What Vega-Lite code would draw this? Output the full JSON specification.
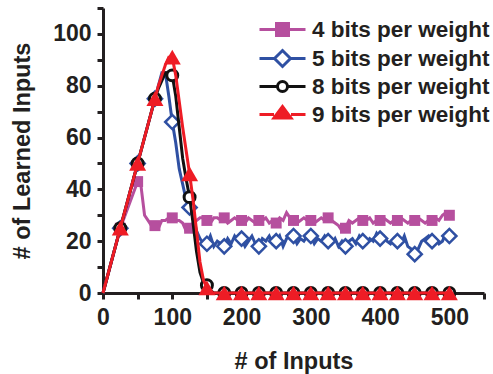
{
  "$schema": "https://vega.github.io/schema/vega-lite/v6.json",
  "width": 381,
  "height": 285,
  "autosize": "none",
  "padding": {"left": 103, "top": 8, "right": 9, "bottom": 81},
  "background": "white",
  "config": {
    "view": {"stroke": null},
    "font": "Liberation Sans",
    "axis": {
      "grid": false,
      "domainColor": "#231F20",
      "domainWidth": 3,
      "tickColor": "#231F20",
      "tickWidth": 3,
      "tickSize": 6,
      "labelFont": "Liberation Sans",
      "labelFontWeight": "bold",
      "labelFontSize": 23,
      "labelColor": "#231F20",
      "titleFont": "Liberation Sans",
      "titleFontWeight": "bold",
      "titleFontSize": 23.5,
      "titleColor": "#231F20",
      "labelOverlap": false
    }
  },
  "data": {
    "values": [
      {"x": 0, "4 bits per weight": 0, "5 bits per weight": 0, "8 bits per weight": 0, "9 bits per weight": 0},
      {"x": 25, "4 bits per weight": 25, "5 bits per weight": 25, "8 bits per weight": 25, "9 bits per weight": 25},
      {"x": 50, "4 bits per weight": 43, "5 bits per weight": 50, "8 bits per weight": 50, "9 bits per weight": 50},
      {"x": 55, "4 bits per weight": 41, "5 bits per weight": null, "8 bits per weight": null, "9 bits per weight": null},
      {"x": 60, "4 bits per weight": 30, "5 bits per weight": null, "8 bits per weight": null, "9 bits per weight": null},
      {"x": 65, "4 bits per weight": 28, "5 bits per weight": null, "8 bits per weight": null, "9 bits per weight": null},
      {"x": 70, "4 bits per weight": 26, "5 bits per weight": null, "8 bits per weight": null, "9 bits per weight": null},
      {"x": 75, "4 bits per weight": 26, "5 bits per weight": 75, "8 bits per weight": 75, "9 bits per weight": 75},
      {"x": 80, "4 bits per weight": 25, "5 bits per weight": 80, "8 bits per weight": 79, "9 bits per weight": 80},
      {"x": 85, "4 bits per weight": 28, "5 bits per weight": 85, "8 bits per weight": 82, "9 bits per weight": 84},
      {"x": 90, "4 bits per weight": 28, "5 bits per weight": 85, "8 bits per weight": 85, "9 bits per weight": 88},
      {"x": 95, "4 bits per weight": 29, "5 bits per weight": 76, "8 bits per weight": 85, "9 bits per weight": 91},
      {"x": 100, "4 bits per weight": 29, "5 bits per weight": 66, "8 bits per weight": 84, "9 bits per weight": 91},
      {"x": 105, "4 bits per weight": 28, "5 bits per weight": 58, "8 bits per weight": 76, "9 bits per weight": 84},
      {"x": 110, "4 bits per weight": 28, "5 bits per weight": 48, "8 bits per weight": 64, "9 bits per weight": 74},
      {"x": 115, "4 bits per weight": 27, "5 bits per weight": 42, "8 bits per weight": 52, "9 bits per weight": 64},
      {"x": 120, "4 bits per weight": 24, "5 bits per weight": 36, "8 bits per weight": 44, "9 bits per weight": 55},
      {"x": 125, "4 bits per weight": 25, "5 bits per weight": 33, "8 bits per weight": 37, "9 bits per weight": 46},
      {"x": 130, "4 bits per weight": 27, "5 bits per weight": 30, "8 bits per weight": 27, "9 bits per weight": 36},
      {"x": 135, "4 bits per weight": 28, "5 bits per weight": 24, "8 bits per weight": 16, "9 bits per weight": 24},
      {"x": 140, "4 bits per weight": 29, "5 bits per weight": 21, "8 bits per weight": 8, "9 bits per weight": 12},
      {"x": 145, "4 bits per weight": 29, "5 bits per weight": 19, "8 bits per weight": 4, "9 bits per weight": 5},
      {"x": 150, "4 bits per weight": 28, "5 bits per weight": 19, "8 bits per weight": 3, "9 bits per weight": 2},
      {"x": 155, "4 bits per weight": 27, "5 bits per weight": 22, "8 bits per weight": 1, "9 bits per weight": 0},
      {"x": 160, "4 bits per weight": 29, "5 bits per weight": 18, "8 bits per weight": 0, "9 bits per weight": 0},
      {"x": 165, "4 bits per weight": 29, "5 bits per weight": 20, "8 bits per weight": 0, "9 bits per weight": 0},
      {"x": 170, "4 bits per weight": 28, "5 bits per weight": 19, "8 bits per weight": 0, "9 bits per weight": 0},
      {"x": 175, "4 bits per weight": 29, "5 bits per weight": 18, "8 bits per weight": 0, "9 bits per weight": 0},
      {"x": 180, "4 bits per weight": 27, "5 bits per weight": 21, "8 bits per weight": 0, "9 bits per weight": 0},
      {"x": 185, "4 bits per weight": 28, "5 bits per weight": 19, "8 bits per weight": 0, "9 bits per weight": 0},
      {"x": 190, "4 bits per weight": 29, "5 bits per weight": 22, "8 bits per weight": 0, "9 bits per weight": 0},
      {"x": 195, "4 bits per weight": 28, "5 bits per weight": 20, "8 bits per weight": 0, "9 bits per weight": 0},
      {"x": 200, "4 bits per weight": 28, "5 bits per weight": 21, "8 bits per weight": 0, "9 bits per weight": 0},
      {"x": 205, "4 bits per weight": 27, "5 bits per weight": 18, "8 bits per weight": 0, "9 bits per weight": 0},
      {"x": 210, "4 bits per weight": 29, "5 bits per weight": 20, "8 bits per weight": 0, "9 bits per weight": 0},
      {"x": 215, "4 bits per weight": 28, "5 bits per weight": 22, "8 bits per weight": 0, "9 bits per weight": 0},
      {"x": 220, "4 bits per weight": 27, "5 bits per weight": 19, "8 bits per weight": 0, "9 bits per weight": 0},
      {"x": 225, "4 bits per weight": 28, "5 bits per weight": 18, "8 bits per weight": 0, "9 bits per weight": 0},
      {"x": 230, "4 bits per weight": 28, "5 bits per weight": 21, "8 bits per weight": 0, "9 bits per weight": 0},
      {"x": 235, "4 bits per weight": 29, "5 bits per weight": 20, "8 bits per weight": 0, "9 bits per weight": 0},
      {"x": 240, "4 bits per weight": 27, "5 bits per weight": 22, "8 bits per weight": 0, "9 bits per weight": 0},
      {"x": 245, "4 bits per weight": 28, "5 bits per weight": 19, "8 bits per weight": 0, "9 bits per weight": 0},
      {"x": 250, "4 bits per weight": 27, "5 bits per weight": 20, "8 bits per weight": 0, "9 bits per weight": 0},
      {"x": 255, "4 bits per weight": 29, "5 bits per weight": 22, "8 bits per weight": 0, "9 bits per weight": 0},
      {"x": 260, "4 bits per weight": 28, "5 bits per weight": 18, "8 bits per weight": 0, "9 bits per weight": 0},
      {"x": 265, "4 bits per weight": 31, "5 bits per weight": 21, "8 bits per weight": 0, "9 bits per weight": 0},
      {"x": 270, "4 bits per weight": 29, "5 bits per weight": 23, "8 bits per weight": 0, "9 bits per weight": 0},
      {"x": 275, "4 bits per weight": 28, "5 bits per weight": 22, "8 bits per weight": 0, "9 bits per weight": 0},
      {"x": 280, "4 bits per weight": 27, "5 bits per weight": 19, "8 bits per weight": 0, "9 bits per weight": 0},
      {"x": 285, "4 bits per weight": 28, "5 bits per weight": 21, "8 bits per weight": 0, "9 bits per weight": 0},
      {"x": 290, "4 bits per weight": 29, "5 bits per weight": 20, "8 bits per weight": 0, "9 bits per weight": 0},
      {"x": 295, "4 bits per weight": 28, "5 bits per weight": 22, "8 bits per weight": 0, "9 bits per weight": 0},
      {"x": 300, "4 bits per weight": 28, "5 bits per weight": 22, "8 bits per weight": 0, "9 bits per weight": 0},
      {"x": 305, "4 bits per weight": 27, "5 bits per weight": 19, "8 bits per weight": 0, "9 bits per weight": 0},
      {"x": 310, "4 bits per weight": 28, "5 bits per weight": 21, "8 bits per weight": 0, "9 bits per weight": 0},
      {"x": 315, "4 bits per weight": 29, "5 bits per weight": 20, "8 bits per weight": 0, "9 bits per weight": 0},
      {"x": 320, "4 bits per weight": 28, "5 bits per weight": 22, "8 bits per weight": 0, "9 bits per weight": 0},
      {"x": 325, "4 bits per weight": 29, "5 bits per weight": 20, "8 bits per weight": 0, "9 bits per weight": 0},
      {"x": 330, "4 bits per weight": 28, "5 bits per weight": 19, "8 bits per weight": 0, "9 bits per weight": 0},
      {"x": 335, "4 bits per weight": 27, "5 bits per weight": 21, "8 bits per weight": 0, "9 bits per weight": 0},
      {"x": 340, "4 bits per weight": 26, "5 bits per weight": 18, "8 bits per weight": 0, "9 bits per weight": 0},
      {"x": 345, "4 bits per weight": 24, "5 bits per weight": 20, "8 bits per weight": 0, "9 bits per weight": 0},
      {"x": 350, "4 bits per weight": 25, "5 bits per weight": 18, "8 bits per weight": 0, "9 bits per weight": 0},
      {"x": 355, "4 bits per weight": 28, "5 bits per weight": 20, "8 bits per weight": 0, "9 bits per weight": 0},
      {"x": 360, "4 bits per weight": 27, "5 bits per weight": 21, "8 bits per weight": 0, "9 bits per weight": 0},
      {"x": 365, "4 bits per weight": 28, "5 bits per weight": 19, "8 bits per weight": 0, "9 bits per weight": 0},
      {"x": 370, "4 bits per weight": 29, "5 bits per weight": 22, "8 bits per weight": 0, "9 bits per weight": 0},
      {"x": 375, "4 bits per weight": 28, "5 bits per weight": 20, "8 bits per weight": 0, "9 bits per weight": 0},
      {"x": 380, "4 bits per weight": 28, "5 bits per weight": 19, "8 bits per weight": 0, "9 bits per weight": 0},
      {"x": 385, "4 bits per weight": 29, "5 bits per weight": 21, "8 bits per weight": 0, "9 bits per weight": 0},
      {"x": 390, "4 bits per weight": 27, "5 bits per weight": 20, "8 bits per weight": 0, "9 bits per weight": 0},
      {"x": 395, "4 bits per weight": 28, "5 bits per weight": 23, "8 bits per weight": 0, "9 bits per weight": 0},
      {"x": 400, "4 bits per weight": 28, "5 bits per weight": 21, "8 bits per weight": 0, "9 bits per weight": 0},
      {"x": 405, "4 bits per weight": 29, "5 bits per weight": 22, "8 bits per weight": 0, "9 bits per weight": 0},
      {"x": 410, "4 bits per weight": 28, "5 bits per weight": 20, "8 bits per weight": 0, "9 bits per weight": 0},
      {"x": 415, "4 bits per weight": 27, "5 bits per weight": 19, "8 bits per weight": 0, "9 bits per weight": 0},
      {"x": 420, "4 bits per weight": 28, "5 bits per weight": 21, "8 bits per weight": 0, "9 bits per weight": 0},
      {"x": 425, "4 bits per weight": 28, "5 bits per weight": 20, "8 bits per weight": 0, "9 bits per weight": 0},
      {"x": 430, "4 bits per weight": 29, "5 bits per weight": 19, "8 bits per weight": 0, "9 bits per weight": 0},
      {"x": 435, "4 bits per weight": 28, "5 bits per weight": 22, "8 bits per weight": 0, "9 bits per weight": 0},
      {"x": 440, "4 bits per weight": 27, "5 bits per weight": 18, "8 bits per weight": 0, "9 bits per weight": 0},
      {"x": 445, "4 bits per weight": 28, "5 bits per weight": 17, "8 bits per weight": 0, "9 bits per weight": 0},
      {"x": 450, "4 bits per weight": 28, "5 bits per weight": 15, "8 bits per weight": 0, "9 bits per weight": 0},
      {"x": 455, "4 bits per weight": 29, "5 bits per weight": 17, "8 bits per weight": 0, "9 bits per weight": 0},
      {"x": 460, "4 bits per weight": 28, "5 bits per weight": 20, "8 bits per weight": 0, "9 bits per weight": 0},
      {"x": 465, "4 bits per weight": 27, "5 bits per weight": 21, "8 bits per weight": 0, "9 bits per weight": 0},
      {"x": 470, "4 bits per weight": 28, "5 bits per weight": 22, "8 bits per weight": 0, "9 bits per weight": 0},
      {"x": 475, "4 bits per weight": 28, "5 bits per weight": 20, "8 bits per weight": 0, "9 bits per weight": 0},
      {"x": 480, "4 bits per weight": 29, "5 bits per weight": 21, "8 bits per weight": 0, "9 bits per weight": 0},
      {"x": 485, "4 bits per weight": 28, "5 bits per weight": 19, "8 bits per weight": 0, "9 bits per weight": 0},
      {"x": 490, "4 bits per weight": 30, "5 bits per weight": 20, "8 bits per weight": 0, "9 bits per weight": 0},
      {"x": 495, "4 bits per weight": 31, "5 bits per weight": 23, "8 bits per weight": 0, "9 bits per weight": 0},
      {"x": 500, "4 bits per weight": 30, "5 bits per weight": 22, "8 bits per weight": 0, "9 bits per weight": 0}
    ]
  },
  "transform": [
    {"fold": ["4 bits per weight", "5 bits per weight", "8 bits per weight", "9 bits per weight"], "as": ["s", "y"]},
    {"filter": "isValid(datum.y)"}
  ],
  "encoding": {
    "x": {
      "field": "x", "type": "quantitative",
      "scale": {"domain": [0, 550], "nice": false, "zero": false},
      "axis": {
        "title": "# of Inputs",
        "values": [0, 50, 100, 150, 200, 250, 300, 350, 400, 450, 500, 550],
        "labelExpr": "datum.value % 100 === 0 && datum.value < 550 ? datum.label : ''",
        "labelPadding": 7,
        "titlePadding": 20,
        "labelFlush": false
      }
    },
    "y": {
      "field": "y", "type": "quantitative",
      "scale": {"domain": [0, 110], "nice": false},
      "axis": {
        "title": "# of Learned Inputs",
        "values": [0, 10, 20, 30, 40, 50, 60, 70, 80, 90, 100, 110],
        "labelExpr": "datum.value % 20 === 0 && datum.value < 110 ? datum.label : ''",
        "labelPadding": 6,
        "titlePadding": 18
      }
    }
  },
  "layer": [
    {
      "transform": [{"filter": "datum.s === '4 bits per weight'"}],
      "mark": {"type": "line", "color": "#B64F9E", "strokeWidth": 3}
    },
    {
      "transform": [{"filter": "datum.s === '4 bits per weight' && datum.x > 0 && datum.x % 25 === 0"}],
      "mark": {"type": "point", "shape": "square", "filled": true, "size": 120, "color": "#B64F9E", "opacity": 1}
    },
    {
      "transform": [{"filter": "datum.s === '5 bits per weight'"}],
      "mark": {"type": "line", "color": "#2F50A3", "strokeWidth": 3}
    },
    {
      "transform": [{"filter": "datum.s === '5 bits per weight' && datum.x > 0 && datum.x % 25 === 0"}],
      "mark": {"type": "point", "shape": "diamond", "filled": false, "fill": "white", "fillOpacity": 1, "stroke": "#2F50A3", "strokeWidth": 2.5, "size": 200, "opacity": 1}
    },
    {
      "transform": [{"filter": "datum.s === '8 bits per weight'"}],
      "mark": {"type": "line", "color": "#111111", "strokeWidth": 3}
    },
    {
      "transform": [{"filter": "datum.s === '8 bits per weight' && datum.x > 0 && datum.x % 25 === 0"}],
      "mark": {"type": "point", "shape": "circle", "filled": false, "fill": "white", "fillOpacity": 1, "stroke": "#111111", "strokeWidth": 3, "size": 120, "opacity": 1}
    },
    {
      "transform": [{"filter": "datum.s === '9 bits per weight'"}],
      "mark": {"type": "line", "color": "#EE1C25", "strokeWidth": 3}
    },
    {
      "transform": [{"filter": "datum.s === '9 bits per weight' && datum.x > 0 && datum.x % 25 === 0"}],
      "mark": {"type": "point", "shape": "triangle-up", "filled": true, "size": 290, "color": "#EE1C25", "opacity": 1}
    },
    {
      "transform": [{"filter": "datum.x < 0"}],
      "mark": {"type": "point", "filled": true, "strokeWidth": 3, "opacity": 1},
      "encoding": {
        "stroke": {
          "field": "s", "type": "nominal",
          "scale": {"domain": ["4 bits per weight", "5 bits per weight", "8 bits per weight", "9 bits per weight"], "range": ["#B64F9E", "#2F50A3", "#111111", "#EE1C25"]},
          "legend": {
            "orient": "none", "legendX": 168, "legendY": 10, "title": null,
            "symbolSize": 400, "symbolStrokeWidth": 3, "symbolOpacity": 1,
            "labelFont": "Liberation Sans", "labelFontSize": 22.5, "labelFontWeight": "bold", "labelColor": "#231F20",
            "labelOffset": 18, "rowPadding": 2, "padding": 0, "labelLimit": 400
          }
        },
        "fill": {
          "field": "s", "type": "nominal",
          "scale": {"domain": ["4 bits per weight", "5 bits per weight", "8 bits per weight", "9 bits per weight"], "range": ["#B64F9E", "#FFFFFF", "#FFFFFF", "#EE1C25"]}
        },
        "shape": {
          "field": "s", "type": "nominal",
          "scale": {
            "domain": ["4 bits per weight", "5 bits per weight", "8 bits per weight", "9 bits per weight"],
            "range": [
              "M-2.3,0H-0.6M0.6,0H2.3M-0.6,-0.6H0.6V0.6H-0.6Z",
              "M-2.3,0H-0.8M0.8,0H2.3M-0.8,0L0,-0.8L0.8,0L0,0.8Z",
              "M-2.3,0H-0.5M0.5,0H2.3M-0.5,0A0.5,0.5 0 1,1 0.5,0A0.5,0.5 0 1,1 -0.5,0Z",
              "M-2.3,0H-0.85M0.85,0H2.3M-0.85,0.35L0,-0.8L0.85,0.35Z"
            ]
          }
        }
      }
    }
  ]
}
